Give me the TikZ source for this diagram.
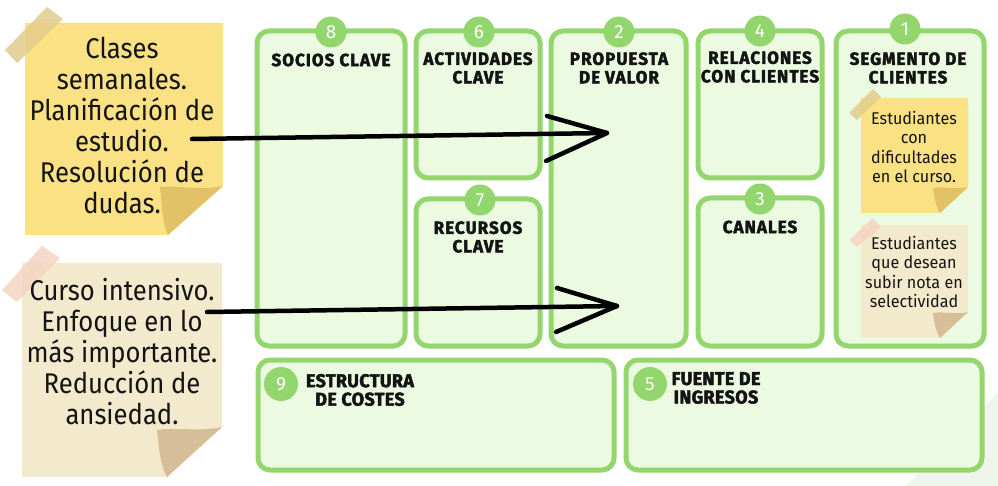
\documentclass[tikz,border=0pt]{standalone}
\usepackage{fontspec}
\setmainfont{Fira Sans}
\newfontfamily\notefont{Fira Sans}[FakeStretch=0.9]
\newfontfamily\smallfont{Fira Sans}[FakeStretch=0.95]
\newfontfamily\hdfont{Fira Sans}[FakeStretch=0.97, LetterSpace=6, BoldFeatures={FakeBold=2.4}]
\newfontfamily\hdfontb{Fira Sans}[FakeStretch=0.97, LetterSpace=2, BoldFeatures={FakeBold=2.4}]
\newfontfamily\numfont{Fira Sans}
\definecolor{gborder}{RGB}{148,214,110}
\definecolor{gfill}{RGB}{236,250,226}
\definecolor{ynote}{RGB}{249,225,132}
\definecolor{yfold}{RGB}{225,194,103}
\definecolor{ytape}{RGB}{226,204,140}
\definecolor{bnote}{RGB}{243,234,205}
\definecolor{bfold}{RGB}{214,190,152}
\definecolor{ptape}{RGB}{245,212,194}
\definecolor{ink}{RGB}{20,20,20}
\begin{document}
\begin{tikzpicture}[x=1pt,y=-1pt,
  cbox/.style={draw=gborder, fill=gfill, line width=5pt, rounded corners=12pt, inner sep=0pt},
  numc/.style={circle, fill=gborder, text=white, minimum size=31pt, inner sep=0pt, font=\numfont\fontsize{19}{19}\selectfont},
  hd/.style={align=center, inner sep=0pt, text=ink, font=\hdfont\bfseries\fontsize{17.5}{18.5}\selectfont},
  hdb/.style={align=center, inner sep=0pt, text=ink, font=\hdfontb\bfseries\fontsize{18.5}{18.5}\selectfont},
  notetxt/.style={align=center, inner sep=0pt, text=ink, font=\notefont\fontsize{28.5}{31}\selectfont},
  smalltxt/.style={align=center, inner sep=0pt, text=ink, font=\smallfont\fontsize{17}{19.3}\selectfont},
  brush/.style={draw=black, line width=4.5pt, line cap=round, line join=round}]
\useasboundingbox (0,0) rectangle (998,486);
\fill[white] (0,0) rectangle (998,486);
% faint background shape
\fill[black!4!white!97!green] (998,392) -- (998,486) -- (906,486) -- cycle;

% canvas boxes
\node[cbox, minimum width=148pt, minimum height=315pt] (socios) at (331,188.5) {};
\node[cbox, minimum width=124pt, minimum height=147pt] (activ) at (478,104.5) {};
\node[cbox, minimum width=124pt, minimum height=147pt] (recur) at (478,272.5) {};
\node[cbox, minimum width=135pt, minimum height=315pt] (prop) at (618.5,188.5) {};
\node[cbox, minimum width=124pt, minimum height=147pt] (relac) at (760,104.5) {};
\node[cbox, minimum width=124pt, minimum height=148pt] (canal) at (760,272) {};
\node[cbox, minimum width=148pt, minimum height=315pt] (segm) at (910,188.5) {};
\node[cbox, minimum width=356pt, minimum height=110pt] (estr) at (436,415) {};
\node[cbox, minimum width=356pt, minimum height=110pt] (fuente) at (804,415) {};

% number circles
\node[numc] (n8) at (331,32) {8};
\node[numc] (n6) at (479,32) {6};
\node[numc] (n7) at (480,200) {7};
\node[numc] (n2) at (619,32) {2};
\node[numc] (n4) at (760,31) {4};
\node[numc] (n3) at (760,199) {3};
\node[numc] (n1) at (905,29) {1};
\node[numc, minimum size=34pt] (n9) at (281,384) {9};
\node[numc, minimum size=34pt] (n5) at (650,384) {5};

% headers
\node[hd] (h8) at (331,60) {SOCIOS CLAVE};
\node[hd] (h6) at (478,68) {ACTIVIDADES\\CLAVE};
\node[hd] (h7) at (478,237) {RECURSOS\\CLAVE};
\node[hd] (h2) at (619,68) {PROPUESTA\\DE VALOR};
\node[hd] (h4) at (760,67) {RELACIONES\\CON CLIENTES};
\node[hd] (h3) at (760,227) {CANALES};
\node[hd] (h1) at (908,68) {SEGMENTO DE\\CLIENTES};
\node[hdb] (h9) at (360,390) {ESTRUCTURA\\DE COSTES};
\node[hdb] (h5) at (716,388) {FUENTE DE\\INGRESOS};

% left sticky note 1 (yellow)
\fill[ynote] (25,23) -- (223,23) -- (223,186) -- (168,235) -- (25,235) -- cycle;
\fill[yfold] (223,186) .. controls (200,191) and (178,185) .. (160,187) .. controls (162,205) and (162,222) .. (168,235) -- cycle;
\fill[ytape, opacity=0.85] (5,50) -- (47,7) -- (63,19) -- (17,63) -- cycle;
\node[notetxt] (note1) at (122,125) {Clases\\semanales.\\Planificación de\\estudio.\\Resolución de\\dudas.};

% left sticky note 2 (beige)
\fill[bnote] (22,263) -- (222,263) -- (222,427) -- (167,477) -- (22,477) -- cycle;
\fill[bfold] (222,427) .. controls (200,432) and (175,427) .. (157,430) .. controls (159,448) and (160,464) .. (167,477) -- cycle;
\fill[ptape, opacity=0.85] (2,290) -- (42,246) -- (60,258) -- (17,302) -- cycle;
\node[notetxt] (note2) at (122,352) {Curso intensivo.\\Enfoque en lo\\más importante.\\Reducción de\\ansiedad.};

% segment notes
\fill[ynote] (861,98) -- (968,98) -- (968,187) -- (940,213) -- (861,213) -- cycle;
\fill[yfold] (968,187) .. controls (955,190) and (945,186) .. (933,188) .. controls (934,198) and (936,206) .. (940,213) -- cycle;
\fill[ytape, opacity=0.85] (849,113) -- (873,89) -- (881,97) -- (857,120) -- cycle;
\node[smalltxt] (s1) at (914,147) {Estudiantes\\con\\dificultades\\en el curso.};

\fill[bnote] (861,225) -- (968,225) -- (968,312) -- (940,338) -- (861,338) -- cycle;
\fill[bfold] (968,312) .. controls (955,315) and (945,311) .. (933,313) .. controls (934,323) and (936,331) .. (940,338) -- cycle;
\fill[ptape, opacity=0.85] (849,240) -- (873,218) -- (881,227) -- (857,247) -- cycle;
\node[smalltxt] (s2) at (914,272) {Estudiantes\\que desean\\subir nota en\\selectividad};

% brush arrows
\coordinate (a1s) at (192,139);
\coordinate (a1t) at (607,133);
\coordinate (a1u) at (547,116);
\coordinate (a1l) at (546,161);
\draw[brush] (a1s) -- (a1t);
\draw[brush] (a1u) -- (a1t) -- (a1l);
\coordinate (a2s) at (207,312);
\coordinate (a2t) at (617,306);
\coordinate (a2u) at (557,288);
\coordinate (a2l) at (556,332);
\draw[brush] (a2s) -- (a2t);
\draw[brush] (a2u) -- (a2t) -- (a2l);
\end{tikzpicture}
\end{document}
